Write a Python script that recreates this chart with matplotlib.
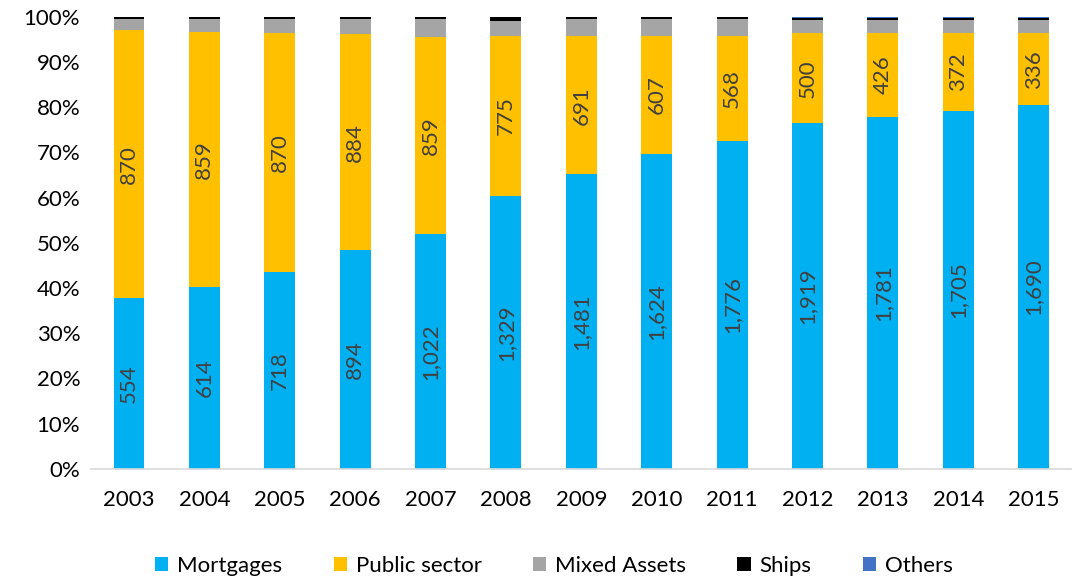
import numpy as np
import matplotlib.pyplot as plt

plt.rcParams['font.family'] = ['Lato', 'DejaVu Sans']

years = ['2003', '2004', '2005', '2006', '2007', '2008', '2009',
         '2010', '2011', '2012', '2013', '2014', '2015']
mortgages = [554, 614, 718, 894, 1022, 1329, 1481, 1624, 1776, 1919, 1781, 1705, 1690]
public_sector = [870, 859, 870, 884, 859, 775, 691, 607, 568, 500, 426, 372, 336]
mixed_assets = [38, 44, 53, 65, 81, 77, 89, 88, 93, 73, 66, 62, 61]
ships = [6, 6, 7, 7, 8, 18, 9, 9, 10, 13, 11, 11, 10]
others = [0, 0, 0, 0, 0, 0, 0, 0, 0, 5, 5, 4, 4]

series = [
    ('Mortgages', mortgages, '#00B0F0', True),
    ('Public sector', public_sector, '#FFC000', True),
    ('Mixed Assets', mixed_assets, '#A5A5A5', False),
    ('Ships', ships, '#000000', False),
    ('Others', others, '#4472C4', False),
]

totals = np.sum([np.array(s[1], dtype=float) for s in series], axis=0)
x = np.arange(len(years))

fig, ax = plt.subplots(figsize=(10.8, 5.81), dpi=100)
fig.subplots_adjust(left=0.0845, right=0.992, top=0.971, bottom=0.193)

bottom = np.zeros(len(years))
for name, vals, color, labelled in series:
    share = np.array(vals, dtype=float) / totals * 100
    ax.bar(x, share, 0.41, bottom=bottom, color=color, label=name, zorder=2)
    if labelled:
        for xi, b, h, v in zip(x, bottom, share, vals):
            ax.text(xi, b + h / 2, f'{v:,}', rotation=90, ha='center', va='center',
                    fontsize=16, color='#404040', zorder=3)
    bottom += share

ax.set_xlim(-0.5, len(years) - 0.5)
ax.set_ylim(0, 100)
ax.set_xticks(x)
ax.set_xticklabels(years)
ax.set_yticks(np.arange(0, 101, 10))
ax.set_yticklabels([f'{v}%' for v in range(0, 101, 10)])
ax.tick_params(axis='both', length=0, labelsize=16, colors='#000000')
ax.tick_params(axis='x', pad=15)
ax.tick_params(axis='y', pad=8)

for side in ['top', 'right', 'left']:
    ax.spines[side].set_visible(False)
ax.spines['bottom'].set_color('#D9D9D9')
ax.spines['bottom'].set_linewidth(1.2)

ax.legend(loc='center', bbox_to_anchor=(0.472, -0.215), ncol=5, frameon=False,
          fontsize=16, handlelength=0.6, handleheight=0.6, handletextpad=0.4,
          columnspacing=2.3)

plt.savefig('out.png', dpi=100)
plt.close()
